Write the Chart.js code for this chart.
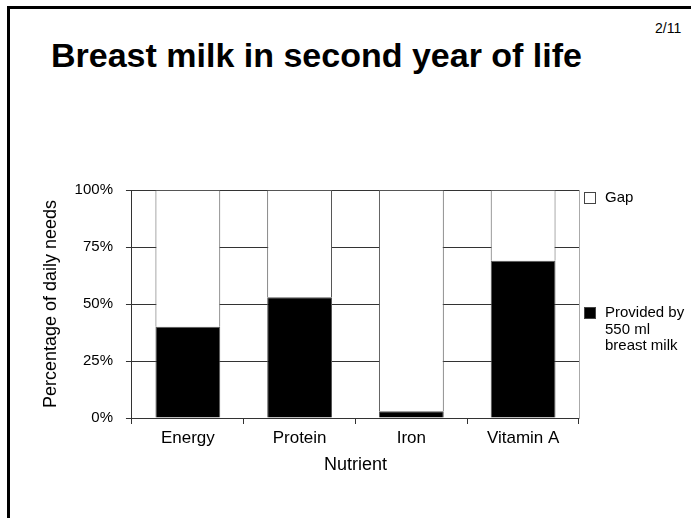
<!DOCTYPE html>
<html>
<head>
<meta charset="utf-8">
<script src="https://cdn.jsdelivr.net/npm/chart.js@4/dist/chart.umd.min.js"></script>
<style>
    html, body { margin: 0; padding: 0; background: #fff; }
    #page { position: relative; width: 691px; height: 518px; overflow: hidden; font-family: "Liberation Sans", Arial, sans-serif; }
    #frame { position: absolute; left: 7px; top: 6px; right: -10px; bottom: -10px; border-top: 3px solid #000; border-left: 3px solid #000; }
    #title { position: absolute; left: 51px; top: 36px; font-size: 34px; font-weight: bold; color: #000; white-space: nowrap; }
    #pageNo { position: absolute; left: 655px; top: 20px; font-size: 14px; color: #000; }
    #chartBox { position: absolute; left: 0; top: 0; width: 691px; height: 518px; }
    #legend { position: absolute; left: 584px; top: 0; font-size: 15px; color: #000; }
    .item { position: absolute; left: 0; width: 107px; }
    .box { position: absolute; left: 0; width: 10px; height: 10px; border: 1px solid #444; }
    .txt { position: absolute; left: 21px; top: 0; line-height: 16.5px; white-space: nowrap; }
</style>
</head>
<body>
<div id="page">
    <div id="frame"></div>
    <div id="title">Breast milk in second year of life</div>
    <div id="pageNo">2/11</div>
    <div id="chartBox"><canvas id="chart"></canvas></div>
    <div id="legend"></div>
</div>
<script>
const nutrients = ['Energy', 'Protein', 'Iron', 'Vitamin A'];
const provided = [40, 53, 3, 69];   // % of daily needs from 550 ml breast milk
const gap = [60, 47, 97, 31];       // remaining gap
const yTicks = [0, 25, 50, 75, 100];

const seriesNames = [['Provided by', '550 ml', 'breast milk'], ['Gap']];
const seriesColors = ['#000000', '#ffffff'];
const legendTops = [304, 189];

// legend built by hand, the library legend cannot spread items like the slide
const legendEl = document.getElementById('legend');
seriesNames.forEach(function (name, i) {
    const item = document.createElement('div');
    item.className = 'item';
    item.style.top = legendTops[i] + 'px';
    item.innerHTML = '<div class="box" style="top:3px;background:' + seriesColors[i] + '"></div>' +
        '<div class="txt">' + name.join('<br>') + '</div>';
    legendEl.appendChild(item);
});

const family = '"Liberation Sans", Arial, sans-serif';

new Chart(document.getElementById('chart').getContext('2d'), {
    type: 'bar',
    data: {
        labels: nutrients,
        datasets: [{
            label: seriesNames[0].join(' '),
            data: provided,
            backgroundColor: seriesColors[0],
            borderColor: '#555',
            borderWidth: 1,
            barPercentage: 0.58,
            categoryPercentage: 1.0
        }, {
            label: seriesNames[1].join(' '),
            data: gap,
            backgroundColor: seriesColors[1],
            borderColor: '#555',
            borderWidth: 1,
            barPercentage: 0.58,
            categoryPercentage: 1.0
        }]
    },
    options: {
        responsive: true,
        maintainAspectRatio: false,
        animation: false,
        layout: {
            padding: { left: 36, right: 112, top: 190, bottom: 42 }
        },
        plugins: {
            legend: { display: false },
            tooltip: { enabled: false }
        },
        scales: {
            x: {
                stacked: true,
                grid: {
                    offset: true,
                    drawOnChartArea: false,
                    drawTicks: true,
                    tickLength: 6,
                    tickColor: '#333'
                },
                border: { color: '#333', width: 1 },
                ticks: { color: '#000', font: { family: family, size: 17 }, padding: 4 },
                title: { display: true, text: 'Nutrient', color: '#000', font: { family: family, size: 18 }, padding: { top: 2, bottom: 0 } }
            },
            y: {
                stacked: true,
                min: 0,
                max: 100,
                afterBuildTicks: function (axis) {
                    axis.ticks = yTicks.map(function (v) { return { value: v }; });
                },
                grid: { color: '#333', tickLength: 6, tickColor: '#333' },
                border: { color: '#333', width: 1 },
                ticks: {
                    color: '#000',
                    font: { family: family, size: 15 },
                    padding: 13,
                    callback: function (v) { return v + '%'; }
                },
                title: { display: true, text: 'Percentage of daily needs', color: '#000', font: { family: family, size: 18 }, padding: { top: 4, bottom: 0 } }
            },
            yRight: {
                position: 'right',
                min: 0,
                max: 100,
                ticks: { display: false },
                grid: { drawOnChartArea: false, drawTicks: false },
                border: { color: '#aaa', width: 1 }
            }
        }
    }
});
</script>
</body>
</html>
